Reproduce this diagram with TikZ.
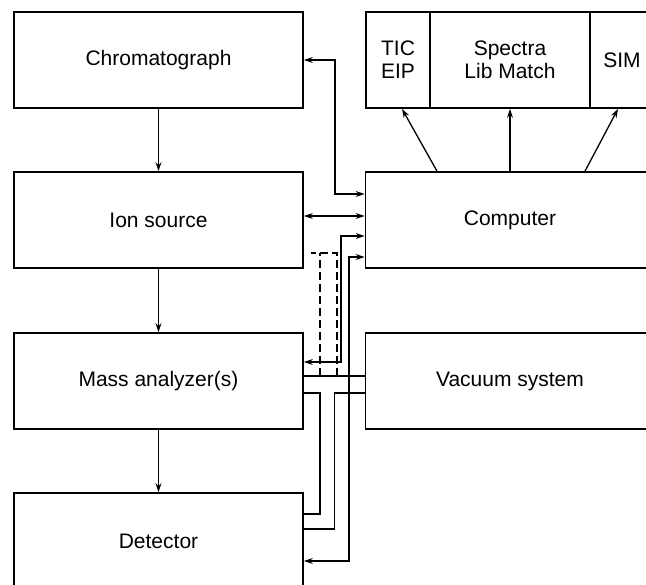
\documentclass[tikz,border=0pt]{standalone}
\usepackage{fontspec}
\setmainfont{Liberation Sans}
\usetikzlibrary{arrows.meta,positioning}
\tikzset{
  blk/.style  = {rectangle, draw, line width=1.7pt, minimum width=289pt, minimum height=96pt,
                 align=center, inner sep=0pt, font=\fontsize{21}{23}\selectfont},
  sub/.style  = {blk, minimum width=#1},
  fl/.style   = {-{Stealth[length=9pt,width=6pt,open]}, line width=1.3pt},
  fll/.style  = {{Stealth[length=9pt,width=6pt,open]}-{Stealth[length=9pt,width=6pt,open]}, line width=1.3pt},
  pipe/.style = {line width=1.6pt},
  opt/.style  = {pipe, line width=1.8pt, dash pattern=on 8pt off 4pt},
}

\begin{document}
\begin{tikzpicture}[x=1pt, y=-1pt]
  \useasboundingbox (0,0) rectangle (646,585);

  \node[blk] (chrom)  at (158.5, 60) {Chromatograph};
  \node[blk] (ionsrc) at (158.5,220) {Ion source};
  \node[blk] (massan) at (158.5,381) {Mass analyzer(s)};
  \node[blk] (detect) at (158.5,541) {Detector};

  \node[blk] (computer) at (510,220) {Computer};
  \node[blk] (vacuum)   at (510,381) {Vacuum system};

  \node[sub=64pt]  (tic)     at (398, 60) {TIC\\EIP};
  \node[sub=160pt] (spectra) at (510, 60) {Spectra\\Lib Match};
  \node[sub=64pt]  (sim)     at (622, 60) {SIM};

  % main flow
  \draw[fl] (chrom.south) -- (ionsrc.north);
  \draw[fl] (ionsrc.south) -- (massan.north);
  \draw[fl] (massan.south) -- (detect.north);

  % computer links
  \draw[fll] (chrom.east) -- ++(31,0) |- ([yshift=26pt]computer.west);
  \draw[fll] ([yshift=4pt]ionsrc.east) -- ([yshift=4pt]computer.west);
  \draw[fll] ([yshift=19pt]massan.east) -- ++(37,0) |- ([yshift=-16pt]computer.west);
  \draw[fll] ([yshift=-20pt]detect.east) -- ++(45,0) |- ([yshift=-37pt]computer.west);

  \draw[fl] ([xshift=-73pt]computer.north) -- ([xshift=4pt]tic.south);
  \draw[fl] (computer.north) -- (spectra.south);
  \draw[fl] ([xshift=75pt]computer.north) -- ([xshift=-4pt]sim.south);

  % vacuum lines
  \draw[pipe] ([yshift=5pt]massan.east) -- ([yshift=5pt]vacuum.west);
  \draw[pipe] ([yshift=-12pt]massan.east) -- ++(16,0) |- ([yshift=27pt]detect.east);
  \draw[pipe] ([yshift=-12pt]vacuum.west) -- ++(-30,0) |- ([yshift=12pt]detect.east);
  \draw[opt] ([xshift=33pt,yshift=5pt]massan.east) -- ++(0,-123) -- ++(-26,0);
  \draw[opt] ([xshift=16pt,yshift=5pt]massan.east) -- ++(0,-123);
\end{tikzpicture}
\end{document}
